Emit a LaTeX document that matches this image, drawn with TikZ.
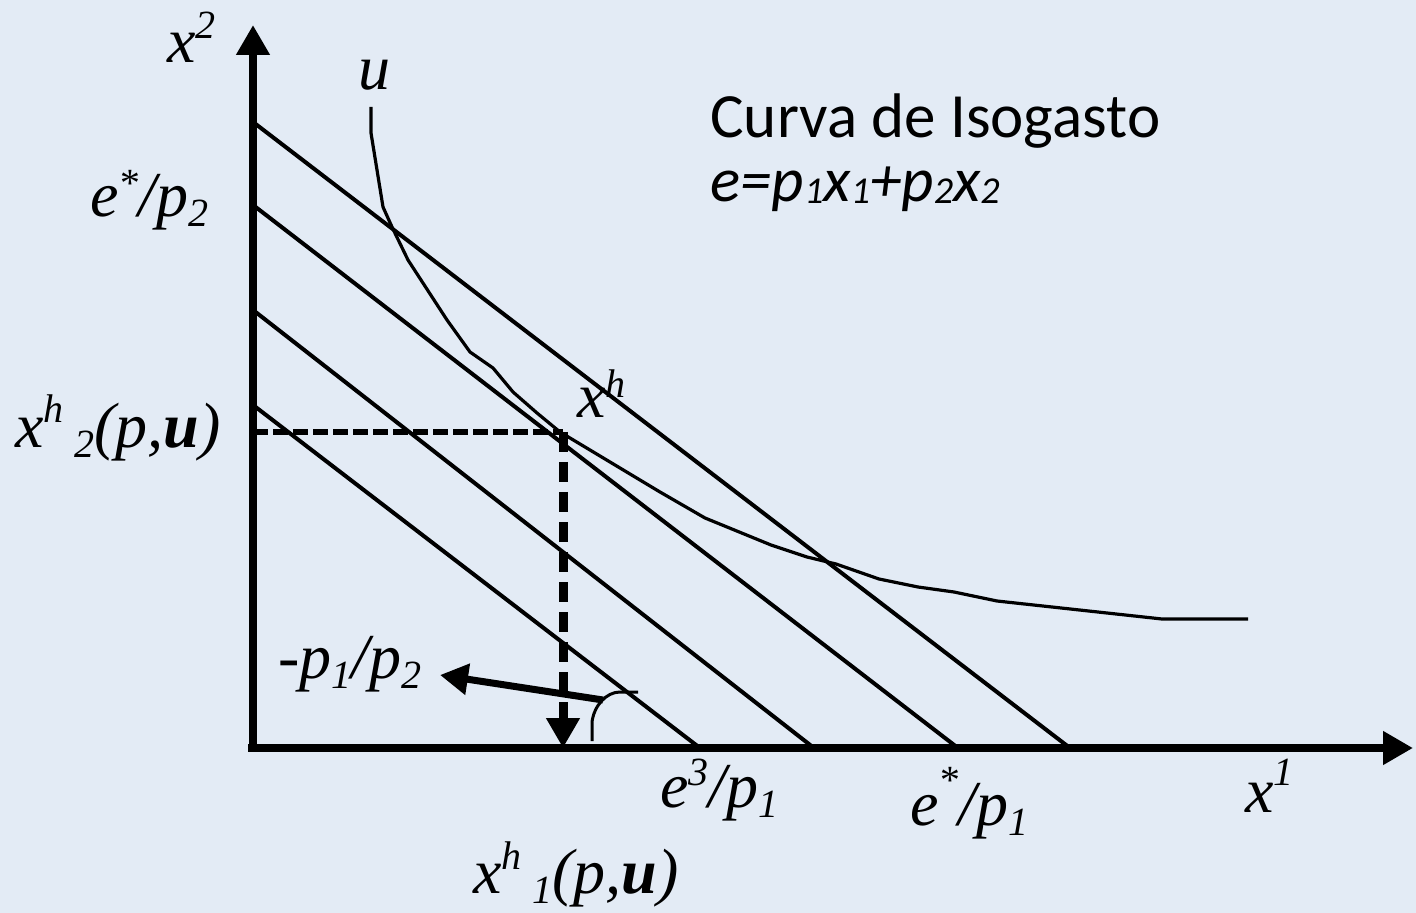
\documentclass[tikz,border=0pt]{standalone}
\usepackage{fontspec}
\setmainfont{Liberation Serif}
\newfontfamily\calibri{Carlito}
\usepackage{xcolor}
\usetikzlibrary{arrows.meta}
\definecolor{fondo}{RGB}{227,235,245}
\newcommand{\supt}[2][12pt]{\raisebox{#1}{\fontsize{20}{20}\selectfont #2}}
\newcommand{\subt}[2][-5pt]{\raisebox{#1}{\fontsize{20}{20}\selectfont #2}}
\newcommand{\dig}[1]{\raisebox{-1pt}{\fontsize{19}{19}\selectfont #1}}

\begin{document}
\begin{tikzpicture}[x=0.5pt,y=-0.5pt,
  lbl/.style={inner sep=0pt,anchor=base west,font=\fontsize{32}{32}\selectfont\itshape},
  txt/.style={inner sep=0pt,anchor=base west,font=\calibri\fontsize{31.5}{31.5}\selectfont},
  eje/.style={line width=4pt,-{Triangle[length=15pt,width=16pt]}},
  recta/.style={line width=2pt},
  curva/.style={line width=1.6pt,line join=round}]
\useasboundingbox (0,0) rectangle (1416,913);
\fill[fondo] (0,0) rectangle (1416,913);
% ejes
\coordinate (O) at (253,748);
\coordinate (ybot) at (253,752);
\coordinate (ytop) at (253,25);
\coordinate (xbot) at (248,748);
\coordinate (xend) at (1413,748);
\draw[eje] (ybot)--(ytop);
\draw[eje] (xbot)--(xend);
% rectas de isogasto
\coordinate (a1) at (253,122);  \coordinate (b1) at (1070,748);
\coordinate (a2) at (253,205);  \coordinate (b2) at (958,748);
\coordinate (a3) at (253,310);  \coordinate (b3) at (814,748);
\coordinate (a4) at (253,405);  \coordinate (b4) at (700,748);
\draw[recta] (a1)--(b1);
\draw[recta] (a2)--(b2);
\draw[recta] (a3)--(b3);
\draw[recta] (a4)--(b4);
% curva de indiferencia u
\draw[curva] (371,107)--(371,133)--(383,207)--(392,227)--(408,260)--(447,320)--(470,352)
  --(493,368)--(513,392)--(537,413)--(560,432)--(600,456)--(660,492)--(705,518)--(771,545)
  --(807,557)--(836,564)--(879,579)--(918,587)--(954,592)--(997,601)--(1162,619)--(1248,619);
% punto optimo
\coordinate (xh) at (563,432);
\coordinate (h2) at (253,432);
\coordinate (h1) at (563,748);
\draw[line width=3pt,dash pattern=on 7.5pt off 2.5pt] (h2)--(xh);
\draw[line width=4.5pt,dash pattern=on 10pt off 5pt,-{Triangle[length=15pt,width=16pt]}] (xh)--(h1);
% pendiente
\coordinate (ps) at (603,700);
\coordinate (pe) at (440,675);
\draw[line width=3.5pt,-{Triangle[length=14pt,width=15pt]}] (ps)--(pe);
\draw[line width=1.5pt] (592,741)--(592,722) .. controls (594,706) and (606,692) .. (620,692)--(638,692);
% etiquetas
\node[lbl] (lx2) at (167,63) {x\supt[12pt]{2}};
\node[lbl] (lu) at (358,90) {u};
\node[lbl] (le2) at (90,217) {e\supt[10pt]{*}/p\subt{2}};
\node[lbl] (lh2) at (15,448) {x\supt[12.5pt]{h}\,\subt{2}(p,\textbf{u})};
\node[lbl] (lxh) at (577,418) {x\supt[10pt]{h}};
\node[lbl] (lpend) at (278,678) {-p\subt{1}/p\subt{2}};
\node[lbl] (le3) at (660,807) {e\supt[11pt]{3}/p\subt{1}};
\node[lbl] (le1) at (910,825) {e\supt[16pt]{*}/p\subt{1}};
\node[lbl] (lx1) at (1245,812) {x\supt[13.5pt]{1}};
\node[lbl] (lh1) at (473,893) {x\supt[12pt]{h}\,\subt{1}(p,\textbf{u})};
\node[txt] (titulo) at (710,138) {Curva de Isogasto};
\node[txt,font=\calibri\itshape\fontsize{31.5}{31.5}\selectfont] (ecuacion) at (710,202)
  {e=p\dig{1}x\dig{1}+p\dig{2}x\dig{2}};
\end{tikzpicture}
\end{document}
